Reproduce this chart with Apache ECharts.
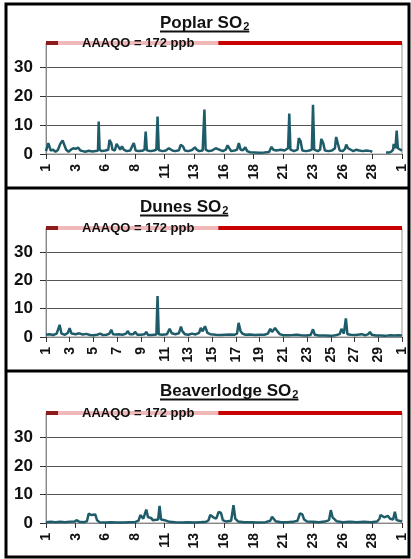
<!DOCTYPE html>
<html>
<head>
<meta charset="utf-8">
<script src="https://cdn.jsdelivr.net/npm/echarts@6/dist/echarts.min.js"></script>
<style>
  html, body { margin: 0; padding: 0; background: #fff; }
  #chart { width: 411px; height: 559px; }
</style>
</head>
<body>
<div id="chart"></div>
<script>
// SO2 (ppb) as [days since the 1st, value]; '-' = no data
const poplar = [
  [0,1.0],[0.1,1.5],[0.2,3.8],[0.3,2.5],[0.4,1.2],[0.6,1.5],[0.8,0.8],[1.0,1.4],[1.2,3.5],[1.4,4.7],
  [1.55,4.2],[1.7,1.5],[1.9,0.8],[2.1,1.5],[2.3,2.0],[2.5,1.8],[2.7,2.2],[2.9,1.2],[3.1,1.0],[3.3,0.8],
  [3.6,1.1],[3.9,0.9],[4.2,1.0],[4.38,1.2],[4.44,11.3],[4.52,1.5],[4.7,1.0],[5.0,1.2],[5.25,1.5],[5.35,4.9],
  [5.5,3.8],[5.6,1.5],[5.8,1.2],[5.95,3.5],[6.1,3.0],[6.25,1.5],[6.4,2.7],[6.55,1.5],[6.8,1.0],[7.1,1.2],
  [7.3,3.0],[7.4,3.8],[7.55,1.2],[7.8,1.0],[8.1,1.1],[8.3,1.5],[8.4,7.8],[8.5,1.3],[8.8,1.0],[9.1,1.2],
  [9.3,1.5],[9.4,13.0],[9.5,1.4],[9.8,1.0],[10.1,1.2],[10.35,2.0],[10.5,2.2],[10.65,1.2],[10.9,1.0],[11.2,1.3],
  [11.35,3.2],[11.55,2.6],[11.7,1.2],[12.0,1.0],[12.3,1.4],[12.55,2.3],[12.7,1.5],[12.9,1.0],[13.2,1.2],[13.3,1.5],
  [13.35,15.4],[13.45,1.5],[13.7,1.0],[14.0,1.2],[14.3,2.0],[14.4,2.5],[14.6,1.5],[14.9,1.0],[15.15,1.5],[15.3,3.0],
  [15.45,2.5],[15.6,1.0],[15.9,1.2],[16.1,1.5],[16.25,3.8],[16.4,1.5],[16.6,1.3],[16.8,2.3],[16.95,1.0],[17.2,0.6],
  [17.6,0.5],[18.0,0.4],[18.4,0.5],[18.8,0.7],[19.0,2.5],[19.15,1.5],[19.4,1.2],[19.8,1.5],[20.1,1.2],[20.4,2.0],
  [20.5,14.0],[20.6,1.5],[20.9,1.0],[21.2,1.5],[21.3,5.5],[21.45,4.5],[21.6,1.2],[21.9,1.0],[22.2,1.2],[22.4,1.5],
  [22.5,17.1],[22.6,1.5],[22.9,1.0],[23.1,1.5],[23.2,5.2],[23.35,4.0],[23.5,1.2],[23.8,1.0],[24.1,1.2],[24.35,2.0],
  [24.45,5.9],[24.6,3.5],[24.75,1.2],[25.0,1.0],[25.2,1.8],[25.3,3.3],[25.45,2.0],[25.6,1.5],[25.9,1.0],[26.15,1.5],
  [26.25,1.8],[26.4,1.2],[26.7,1.0],[27.0,1.2],[27.15,1.4],[27.35,1.0],[27.5,0.8],[27.6,'-'],
  [28.65,0.5],[28.9,0.5],[29.1,0.8],[29.25,1.5],[29.3,3.5],[29.45,2.0],[29.55,8.1],[29.65,2.0],[29.8,1.5],[30,1.2]
];
const dunes = [
  [0,0.8],[0.3,1.0],[0.6,0.7],[0.9,1.2],[1.05,1.5],[1.15,4.3],[1.3,1.2],[1.6,0.8],[1.85,1.5],[1.99,3.1],
  [2.15,1.2],[2.5,1.0],[2.8,1.3],[3.1,0.9],[3.4,1.1],[3.7,0.7],[4.0,0.6],[4.3,0.8],[4.57,1.2],[4.8,0.7],
  [5.1,0.8],[5.35,1.2],[5.5,2.6],[5.65,1.0],[5.9,0.9],[6.15,1.0],[6.26,1.5],[6.45,0.8],[6.75,1.2],[6.88,2.1],
  [7.05,1.0],[7.35,1.0],[7.5,1.8],[7.7,0.8],[8.0,0.8],[8.3,1.0],[8.45,1.8],[8.6,0.7],[8.9,0.7],[9.3,0.9],
  [9.4,14.5],[9.5,1.0],[9.8,0.8],[10.2,1.0],[10.42,2.9],[10.6,1.3],[10.9,1.0],[11.2,1.3],[11.37,3.7],[11.5,2.0],
  [11.7,1.0],[12.0,0.8],[12.3,1.2],[12.6,0.9],[12.9,1.5],[13.05,3.2],[13.2,2.0],[13.4,3.8],[13.6,1.5],[13.85,1.0],
  [14.0,1.2],[14.3,0.8],[14.7,0.7],[15.1,0.8],[15.5,0.9],[15.9,0.8],[16.1,1.2],[16.23,5.0],[16.4,2.0],[16.55,1.2],
  [16.8,0.8],[17.2,0.9],[17.6,0.7],[18.0,0.8],[18.4,0.8],[18.7,1.2],[18.9,2.9],[19.05,1.8],[19.3,3.2],[19.5,2.0],
  [19.7,1.0],[20.0,0.6],[20.4,0.6],[20.8,0.7],[21.15,0.8],[21.3,1.2],[21.5,0.6],[21.9,0.5],[22.3,0.7],[22.5,2.7],
  [22.65,0.8],[23.0,0.5],[23.5,0.5],[24.0,0.4],[24.4,0.6],[24.75,1.0],[24.9,2.9],[25.1,1.2],[25.27,6.6],[25.4,1.0],
  [25.7,0.8],[26.1,0.7],[26.6,1.0],[26.9,0.6],[27.15,1.0],[27.3,1.8],[27.45,0.8],[27.8,0.5],[28.2,0.5],[28.6,0.4],
  [29.0,0.6],[29.4,0.5],[29.7,0.6],[30,0.5]
];
const beaverlodge = [
  [0,0.3],[0.4,0.4],[0.8,0.3],[1.2,0.4],[1.6,0.3],[2.0,0.4],[2.4,0.5],[2.6,1.0],[2.8,0.4],[3.2,0.3],
  [3.45,0.6],[3.6,3.3],[3.8,2.8],[3.95,2.2],[4.15,3.0],[4.3,1.0],[4.5,0.3],[5.0,0.2],[5.5,0.3],[6.0,0.2],
  [6.5,0.2],[7.0,0.3],[7.5,0.3],[7.8,0.8],[7.95,2.8],[8.2,1.5],[8.45,4.7],[8.6,2.0],[8.85,1.8],[9.0,1.0],
  [9.45,1.2],[9.57,6.0],[9.7,1.2],[10.0,1.0],[10.4,0.4],[10.9,0.3],[11.5,0.2],[12.0,0.3],[12.5,0.2],[13.0,0.3],
  [13.5,0.4],[13.7,1.0],[13.84,2.8],[14.1,2.0],[14.35,1.5],[14.55,3.9],[14.75,3.5],[14.9,1.0],[15.2,0.5],[15.6,0.8],
  [15.8,6.2],[15.95,1.5],[16.2,0.5],[16.7,0.3],[17.3,0.3],[17.9,0.2],[18.5,0.3],[18.9,0.8],[19.05,2.2],[19.2,2.0],
  [19.35,0.6],[19.8,0.3],[20.3,0.3],[20.8,0.4],[21.2,0.8],[21.4,3.4],[21.6,3.0],[21.75,1.2],[22.0,0.5],[22.5,0.4],
  [23.0,0.3],[23.5,0.5],[23.85,1.0],[24.0,4.5],[24.15,2.0],[24.3,1.8],[24.5,0.6],[25.0,0.3],[25.6,0.4],[26.2,0.3],
  [26.8,0.4],[27.4,0.3],[27.9,0.5],[28.1,1.5],[28.2,2.8],[28.5,2.0],[28.8,2.5],[29.0,1.5],[29.25,1.2],[29.4,3.9],
  [29.55,1.0],[30,0.5]
];

const stations = ['Poplar', 'Dunes', 'Beaverlodge'];
const stationData = [poplar, dunes, beaverlodge];
const dayStep = [2.5, 2, 2.5];      // x tick spacing in days
const yTicks = [0, 10, 20, 30];
const yMax = 38.5;                  // AAAQO line is off scale, drawn at the top
const limitText = 'AAAQO = 172 ppb';

// layout
const font = '"Liberation Sans", Arial, sans-serif';
const gridTop = [43, 228, 413];
const gridHeight = [111, 109, 110];
const titleLeft = [160, 140, 160];
const titleTop = [13, 197, 381];
const underlineY = [30.5, 214.5, 398.5];

const teal = '#1f5c6a';
const red = '#c80000';

const ctx = document.createElement('canvas').getContext('2d');
function textWidth(txt, size) {
  ctx.font = 'bold ' + size + 'px ' + font;
  return ctx.measureText(txt).width;
}

let myChart = echarts.init(document.getElementById('chart'));

const titles = [], grids = [], xAxes = [], yAxes = [], series = [];
const graphics = [
  {type: 'rect', shape: {x: 6, y: 4, width: 403, height: 553}, style: {fill: 'none', stroke: '#000', lineWidth: 3}},
  {type: 'line', shape: {x1: 6, y1: 188, x2: 409, y2: 188}, style: {stroke: '#000', lineWidth: 3}},
  {type: 'line', shape: {x1: 6, y1: 371, x2: 409, y2: 371}, style: {stroke: '#000', lineWidth: 3}}
];

stations.forEach(function (name, i) {
  titles.push({
    text: '{m|' + name + ' SO}{s|2}',
    left: titleLeft[i],
    top: titleTop[i],
    padding: 0,
    textStyle: {
      rich: {
        m: {fontSize: 17, fontWeight: 'bold', fontFamily: font, color: '#111', lineHeight: 20},
        s: {fontSize: 11, fontWeight: 'bold', fontFamily: font, color: '#111', lineHeight: 20, padding: [7, 0, 0, 1]}
      }
    }
  });
  // title underline, as wide as the title text
  const w = textWidth(name + ' SO', 17) + textWidth('2', 11) + 1;
  graphics.push({
    type: 'rect',
    shape: {x: titleLeft[i], y: underlineY[i], width: w, height: 2},
    style: {fill: '#111'},
    z: 100
  });

  grids.push({
    left: 46, width: 356, top: gridTop[i], height: gridHeight[i],
    show: true, borderColor: '#999', borderWidth: 1
  });

  xAxes.push({
    type: 'value',
    gridIndex: i,
    min: 0, max: 30, interval: dayStep[i],
    axisLine: {show: true, onZero: false, lineStyle: {color: '#888'}},
    axisTick: {show: true, length: 5, lineStyle: {color: '#333'}},
    axisLabel: {
      rotate: 90, margin: 10, fontSize: 14, fontWeight: 'bold', fontFamily: font, color: '#111',
      formatter: function (v) { return String(Math.floor(v + 0.001) % 30 + 1); }
    },
    splitLine: {show: false}
  });

  yAxes.push({
    type: 'value',
    gridIndex: i,
    min: 0, max: yMax, interval: 10,
    axisLine: {show: true, lineStyle: {color: '#888'}},
    axisTick: {show: true, length: 6, lineStyle: {color: '#333'}, customValues: yTicks},
    axisLabel: {
      margin: 13, fontSize: 17, fontWeight: 'bold', fontFamily: font, color: '#111',
      customValues: yTicks
    },
    splitLine: {show: true, lineStyle: {color: '#555', width: 1}}
  });

  series.push({
    name: name + ' SO2',
    type: 'line',
    xAxisIndex: i,
    yAxisIndex: i,
    data: stationData[i],
    showSymbol: false,
    clip: false,
    animation: false,
    lineStyle: {color: teal, width: 2.5},
    itemStyle: {color: teal},
    markLine: {
      silent: true,
      symbol: 'none',
      animation: false,
      lineStyle: {color: red, width: 4, type: 'solid'},
      data: [
        {
          yAxis: yMax,
          label: {
            show: true,
            position: 'insideStart',
            distance: 12,
            formatter: limitText,
            fontSize: 13, fontWeight: 'bold', fontFamily: font, color: '#111',
            backgroundColor: 'rgba(255,255,255,0.72)',
            padding: [3, 24, 3, 24]
          }
        },
        [
          {coord: [0, yMax], lineStyle: {color: '#8e1b1b', width: 4}, label: {show: false}},
          {coord: [1, yMax]}
        ]
      ]
    }
  });
});

myChart.setOption({
  animation: false,
  title: titles,
  grid: grids,
  xAxis: xAxes,
  yAxis: yAxes,
  series: series,
  graphic: graphics
});
</script>
</body>
</html>
